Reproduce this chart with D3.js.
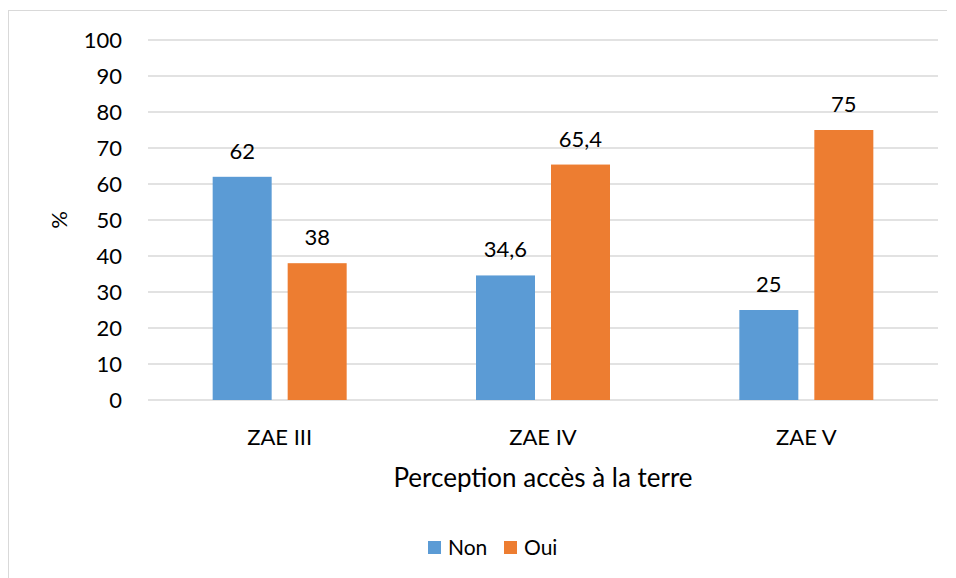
<!DOCTYPE html>
<html>
<head>
<meta charset="utf-8">
<script src="https://cdn.jsdelivr.net/npm/d3@7"></script>
<style>
  body { margin: 0; background: #fff; }
  text { font-family: Lato, "Open Sans", sans-serif; fill: #000; }
</style>
</head>
<body>
<script>
// data
var categories = ["ZAE III", "ZAE IV", "ZAE V"];
var series = ["Non", "Oui"];
var nonValues = [62, 34.6, 25];
var ouiValues = [38, 65.4, 75];
var yTicks = [0, 10, 20, 30, 40, 50, 60, 70, 80, 90, 100];
var colors = ["#5B9BD5", "#ED7D31"];

var svg = d3.select("body").append("svg")
    .attr("width", 956)
    .attr("height", 578);

// chart frame (top + left visible)
svg.append("line").attr("x1", 8).attr("x2", 947).attr("y1", 10.5).attr("y2", 10.5)
    .attr("stroke", "#d9d9d9").attr("stroke-width", 1);
svg.append("line").attr("x1", 8.5).attr("x2", 8.5).attr("y1", 10).attr("y2", 578)
    .attr("stroke", "#d9d9d9").attr("stroke-width", 1);

var pLeft = 148, pRight = 938, pTop = 40, pBottom = 400;

var x0 = d3.scaleBand().domain(categories).range([pLeft, pRight]);
var groupW = 134;
var off = (x0.bandwidth() - groupW) / 2;
var x1 = d3.scaleBand().domain(series).range([off, off + groupW]).paddingInner(16 / 75);
var y = d3.scaleLinear().domain([0, 100]).range([pBottom, pTop]);

// grid
svg.append("g")
    .selectAll("line")
    .data(yTicks)
    .join("line")
    .attr("x1", pLeft)
    .attr("x2", pRight)
    .attr("y1", d => y(d))
    .attr("y2", d => y(d))
    .attr("stroke", "#d9d9d9")
    .attr("stroke-width", 1.5);

// y labels
svg.append("g")
    .selectAll("text")
    .data(yTicks)
    .join("text")
    .attr("x", 122)
    .attr("y", d => y(d))
    .attr("dy", "0.35em")
    .attr("text-anchor", "end")
    .style("font-size", "22px")
    .text(d => d);

// bars
var rows = categories.map((c, i) => ({ cat: c, vals: [nonValues[i], ouiValues[i]] }));
var fmt = v => String(v).replace(".", ",");

var g = svg.append("g")
    .selectAll("g")
    .data(rows)
    .join("g")
    .attr("transform", d => `translate(${x0(d.cat)},0)`);

g.selectAll("rect")
    .data(d => d.vals.map((v, j) => ({ s: series[j], v: v, j: j })))
    .join("rect")
    .attr("x", d => x1(d.s))
    .attr("y", d => y(d.v))
    .attr("width", x1.bandwidth())
    .attr("height", d => pBottom - y(d.v))
    .attr("fill", d => colors[d.j]);

g.selectAll("text.val")
    .data(d => d.vals.map((v, j) => ({ s: series[j], v: v, j: j })))
    .join("text")
    .attr("class", "val")
    .attr("x", d => x1(d.s) + x1.bandwidth() / 2)
    .attr("y", d => y(d.v) - 18)
    .attr("text-anchor", "middle")
    .style("font-size", "22px")
    .text(d => fmt(d.v));

// x labels
svg.append("g")
    .selectAll("text")
    .data(categories)
    .join("text")
    .attr("x", d => x0(d) + x0.bandwidth() / 2)
    .attr("y", 445)
    .attr("text-anchor", "middle")
    .style("font-size", "22px")
    .text(d => d);

// axis titles
svg.append("text")
    .attr("x", (pLeft + pRight) / 2)
    .attr("y", 487)
    .attr("text-anchor", "middle")
    .style("font-size", "26px")
    .text("Perception accès à la terre");

svg.append("text")
    .attr("transform", "translate(67,220) rotate(-90)")
    .attr("text-anchor", "middle")
    .style("font-size", "22px")
    .text("%");

// legend
var legX = [428, 504];
var leg = svg.append("g")
    .selectAll("g")
    .data(series)
    .join("g")
    .attr("transform", (d, i) => `translate(${legX[i]},541)`);
leg.append("rect")
    .attr("width", 13)
    .attr("height", 13)
    .attr("fill", (d, i) => colors[i]);
leg.append("text")
    .attr("x", 20)
    .attr("y", 7)
    .attr("dy", "0.35em")
    .style("font-size", "21px")
    .text(d => d);
</script>
</body>
</html>
